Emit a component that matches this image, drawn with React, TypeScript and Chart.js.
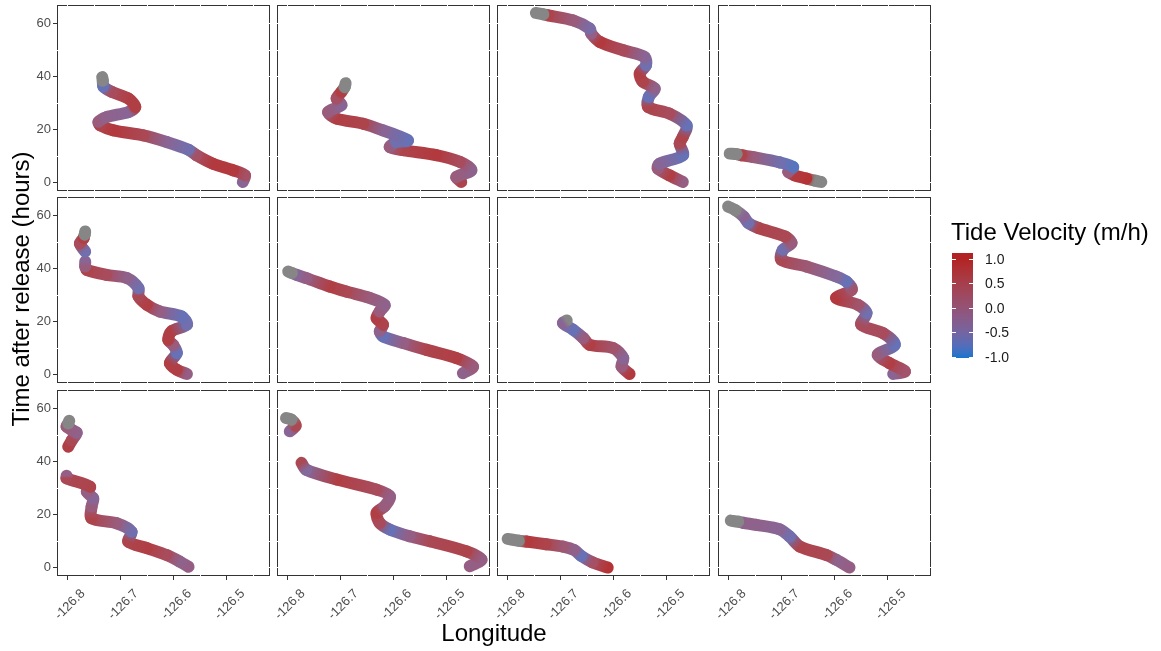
import React, { useEffect, useRef } from 'react';
import { Chart, registerables } from 'chart.js';
Chart.register(...registerables);

// ---------- axis / legend values ----------
const X_TICKS = [-126.8, -126.7, -126.6, -126.5];
const Y_TICKS = [0, 20, 40, 60];
const X_GRID = [-126.8, -126.75, -126.7, -126.65, -126.6, -126.55, -126.5, -126.45];
const Y_GRID = [0, 10, 20, 30, 40, 50, 60];
const LEGEND_TICKS = [1.0, 0.5, 0.0, -0.5, -1.0];
const LON_MIN = -126.819;
const LON_MAX = -126.419;
const TIME_MIN = -3.3;
const TIME_MAX = 66.9;

// ---------- tracks (lon, time after release, tide velocity; null velocity = NA) ----------
const P1_LON = [-126.470, -126.466, -126.488, -126.526, -126.557, -126.572, -126.613, -126.657, -126.713, -126.738, -126.741, -126.726, -126.685, -126.672, -126.685, -126.716, -126.732, -126.733, -126.734];
const P1_TIME = [0.1, 2.6, 4.5, 7.0, 10.2, 12.3, 15.2, 17.7, 19.6, 21.5, 22.8, 24.6, 26.5, 28.4, 31.6, 34.1, 36.2, 38.3, 39.7];
const P1_VEL = [-0.3, 0.3, 0.8, 0.8, 0.3, -0.6, -0.3, 0.5, 0.8, 0.6, 0.0, -0.2, -0.3, 0.7, 0.7, 0.4, -0.7, null, null];

const P2_LON = [-126.473, -126.482, -126.454, -126.476, -126.520, -126.582, -126.607, -126.595, -126.573, -126.620, -126.657, -126.707, -126.723, -126.698, -126.707, -126.698, -126.692, -126.690];
const P2_TIME = [0.1, 2.0, 4.5, 7.7, 10.2, 12.1, 13.3, 15.2, 15.8, 19.6, 22.1, 24.0, 26.5, 29.1, 31.6, 34.1, 35.9, 37.4];
const P2_VEL = [0.6, 0.0, -0.2, 0.4, 0.8, 0.6, 0.0, -0.6, -0.7, -0.3, 0.6, 0.7, 0.0, -0.3, 0.3, 0.7, null, null];

const P3_LON = [-126.470, -126.495, -126.517, -126.514, -126.470, -126.476, -126.470, -126.463, -126.495, -126.535, -126.534, -126.523, -126.545, -126.551, -126.539, -126.542, -126.582, -126.626, -126.642, -126.645, -126.676, -126.723, -126.732, -126.746];
const P3_TIME = [0.1, 2.6, 5.2, 7.0, 10.2, 14.6, 17.1, 21.5, 25.9, 28.4, 32.2, 35.4, 37.9, 41.0, 44.2, 47.3, 49.8, 53.0, 56.1, 58.0, 61.1, 63.0, 63.4, 63.9];
const P3_VEL = [-0.1, 0.7, 0.0, -0.3, -0.7, 0.5, 0.6, -0.7, 0.4, 0.6, -0.7, -0.2, 0.6, 0.7, -0.6, -0.3, 0.4, 0.8, -0.1, -0.5, 0.0, 0.6, null, null];

const P4_LON = [-126.625, -126.637, -126.653, -126.675, -126.687, -126.678, -126.703, -126.753, -126.775, -126.784, -126.797];
const P4_TIME = [0.1, 0.6, 1.4, 2.6, 3.9, 5.8, 7.5, 9.5, 10.2, 10.6, 10.8];
const P4_VEL = [null, null, 0.9, 0.8, 0.0, -0.8, -0.6, 0.0, 0.6, null, null];

const P5_LON = [-126.575, -126.594, -126.607, -126.594, -126.601, -126.610, -126.604, -126.575, -126.585, -126.626, -126.650, -126.666, -126.666, -126.688, -126.726, -126.763, -126.766, -126.766, null, -126.766, -126.776, -126.769, -126.767, -126.766];
const P5_TIME = [0.1, 1.7, 4.2, 8.0, 11.1, 13.0, 16.2, 18.7, 21.8, 23.7, 26.2, 29.4, 32.5, 36.3, 37.5, 39.4, 40.7, 42.6, null, 46.3, 49.3, 51.4, 52.7, 53.9];
const P5_VEL = [-0.1, 0.7, 0.7, -0.7, 0.0, 0.7, 0.7, -0.6, -0.7, -0.1, 0.7, 0.5, -0.6, -0.2, 0.4, 0.6, 0.0, -0.3, null, -0.6, 0.4, 0.7, null, null];

const P6_LON = [-126.470, -126.451, -126.482, -126.538, -126.582, -126.620, -126.626, -126.620, -126.632, -126.626, -126.617, -126.645, -126.689, -126.720, -126.764, -126.782, -126.791, -126.798];
const P6_TIME = [0.4, 2.9, 6.1, 9.2, 11.8, 14.3, 16.2, 18.7, 21.2, 23.7, 26.2, 28.8, 31.2, 33.1, 36.3, 37.5, 38.2, 38.8];
const P6_VEL = [-0.2, 0.0, 0.7, 0.6, -0.1, -0.7, -0.2, 0.6, 0.7, 0.0, -0.2, 0.0, 0.5, 0.7, -0.1, -0.3, null, null];

const P7_LON = [-126.570, -126.585, -126.582, -126.601, -126.645, -126.657, -126.676, -126.695, -126.688];
const P7_TIME = [0.1, 2.9, 6.1, 9.9, 11.1, 13.7, 16.8, 19.3, 20.3];
const P7_VEL = [0.8, 0.0, -0.3, 0.2, 0.7, 0.0, -0.7, -0.3, null];

const P8_LON = [-126.490, -126.468, -126.497, -126.519, -126.487, -126.509, -126.550, -126.540, -126.556, -126.597, -126.568, -126.578, -126.597, -126.653, -126.700, -126.697, -126.681, -126.693, -126.743, -126.762, -126.771, -126.786, -126.800];
const P8_TIME = [0.1, 1.1, 4.2, 7.4, 11.1, 15.5, 18.7, 23.1, 26.2, 28.8, 31.9, 35.0, 36.9, 40.7, 43.2, 47.0, 49.5, 52.0, 55.2, 57.1, 59.5, 61.9, 63.3];
const P8_VEL = [-0.3, 0.2, 0.7, 0.0, -0.7, 0.4, 0.4, -0.6, 0.2, 0.8, 0.2, -0.7, -0.4, 0.1, 0.5, -0.6, 0.0, 0.5, 0.6, -0.6, -0.3, null, null];

const P9_LON = [-126.572, -126.588, -126.613, -126.650, -126.685, -126.679, -126.707, -126.754, -126.754, -126.751, -126.763, -126.757, -126.801, -126.801, null, -126.798, -126.791, -126.782, -126.791, -126.801, -126.798, -126.796];
const P9_TIME = [0.2, 2.1, 4.6, 7.2, 9.7, 13.4, 16.6, 18.5, 22.9, 26.0, 28.5, 30.4, 33.6, 34.5, null, 45.5, 48.0, 50.8, 51.8, 53.1, 54.3, 55.3];
const P9_VEL = [-0.1, -0.2, 0.4, 0.7, 0.6, -0.6, 0.0, 0.6, 0.0, -0.3, -0.1, 0.6, 0.5, -0.1, null, 0.7, 0.5, -0.2, -0.1, 0.0, null, null];

const P10_LON = [-126.457, -126.435, -126.463, -126.532, -126.570, -126.607, -126.626, -126.632, -126.617, -126.607, -126.632, -126.707, -126.764, -126.773, null, -126.795, -126.784, -126.792, -126.802];
const P10_TIME = [0.4, 2.9, 6.0, 9.8, 11.7, 14.2, 16.7, 20.5, 23.0, 26.8, 29.3, 33.1, 36.8, 39.4, null, 51.3, 53.4, 55.7, 56.3];
const P10_VEL = [-0.1, -0.1, 0.6, 0.5, -0.1, -0.7, 0.4, 0.7, 0.0, -0.1, 0.4, 0.7, -0.4, 0.5, null, -0.3, 0.5, null, null];

const P11_LON = [-126.611, -126.640, -126.661, -126.674, -126.695, -126.727, -126.764, -126.778, -126.799];
const P11_TIME = [-0.1, 1.9, 4.3, 6.5, 7.8, 8.7, 9.7, 10.0, 10.7];
const P11_VEL = [0.9, 0.3, -0.7, -0.2, 0.1, 0.6, 0.8, null, null];

const P12_LON = [-126.572, -126.597, -126.615, -126.665, -126.684, -126.703, -126.747, -126.772, -126.781, -126.795];
const P12_TIME = [-0.1, 2.8, 4.6, 7.8, 11.5, 14.3, 16.0, 16.8, 17.2, 17.6];
const P12_VEL = [-0.1, -0.2, 0.5, 0.6, -0.6, -0.3, -0.2, -0.2, null, null];

const PANELS = [
  { lon: P1_LON, time: P1_TIME, vel: P1_VEL },
  { lon: P2_LON, time: P2_TIME, vel: P2_VEL },
  { lon: P3_LON, time: P3_TIME, vel: P3_VEL },
  { lon: P4_LON, time: P4_TIME, vel: P4_VEL },
  { lon: P5_LON, time: P5_TIME, vel: P5_VEL },
  { lon: P6_LON, time: P6_TIME, vel: P6_VEL },
  { lon: P7_LON, time: P7_TIME, vel: P7_VEL },
  { lon: P8_LON, time: P8_TIME, vel: P8_VEL },
  { lon: P9_LON, time: P9_TIME, vel: P9_VEL },
  { lon: P10_LON, time: P10_TIME, vel: P10_VEL },
  { lon: P11_LON, time: P11_TIME, vel: P11_VEL },
  { lon: P12_LON, time: P12_TIME, vel: P12_VEL },
];

// ---------- layout ----------
const W = 1161;
const H = 651;
const COL_LEFT = [57, 277, 497, 718];
const ROW_TOP = [5, 197, 390];
const PANEL_W = 213;
const PANEL_H = 186;
const Y_AXIS_W = 40;
const X_AXIS_H = 50;
const FONT = "'Liberation Sans', Arial, Helvetica, sans-serif";

// ---------- colour scale (Lab interpolation, like ggplot) ----------
const LOW_RGB = [24, 116, 205];
const HIGH_RGB = [178, 34, 34];
const NA_RGB = [128, 128, 128];

function toLin(c: number) { c /= 255; return c <= 0.04045 ? c / 12.92 : Math.pow((c + 0.055) / 1.055, 2.4); }
function fromLin(c: number) {
  const v = c <= 0.0031308 ? 12.92 * c : 1.055 * Math.pow(c, 1 / 2.4) - 0.055;
  return Math.round(Math.max(0, Math.min(1, v)) * 255);
}
function rgbToLab(rgb: number[]) {
  const R = toLin(rgb[0]), G = toLin(rgb[1]), B = toLin(rgb[2]);
  const X = (0.4124 * R + 0.3576 * G + 0.1805 * B) / 0.95047;
  const Y = 0.2126 * R + 0.7152 * G + 0.0722 * B;
  const Z = (0.0193 * R + 0.1192 * G + 0.9505 * B) / 1.08883;
  const f = (t: number) => (t > 0.008856 ? Math.cbrt(t) : 7.787 * t + 16 / 116);
  const fx = f(X), fy = f(Y), fz = f(Z);
  return [116 * fy - 16, 500 * (fx - fy), 200 * (fy - fz)];
}
function labToRgb(lab: number[]) {
  const fy = (lab[0] + 16) / 116, fx = fy + lab[1] / 500, fz = fy - lab[2] / 200;
  const inv = (t: number) => { const t3 = t * t * t; return t3 > 0.008856 ? t3 : (t - 16 / 116) / 7.787; };
  const X = inv(fx) * 0.95047, Y = inv(fy), Z = inv(fz) * 1.08883;
  return [
    fromLin(3.2406 * X - 1.5372 * Y - 0.4986 * Z),
    fromLin(-0.9689 * X + 1.8758 * Y + 0.0415 * Z),
    fromLin(0.0557 * X - 0.2040 * Y + 1.0570 * Z),
  ];
}
const LOW_LAB = rgbToLab(LOW_RGB);
const HIGH_LAB = rgbToLab(HIGH_RGB);

function scaleRgb(v: number | null): number[] {
  if (v === null || v === undefined) return NA_RGB;
  const t = Math.max(0, Math.min(1, (v + 1) / 2));
  return labToRgb([0, 1, 2].map((k) => LOW_LAB[k] + (HIGH_LAB[k] - LOW_LAB[k]) * t));
}
function trackColor(v: number | null) {
  const c = scaleRgb(v);
  const a = 0.95;
  const m = c.map((x) => Math.round(x * a + 255 * (1 - a)));
  return `rgb(${m[0]},${m[1]},${m[2]})`;
}
function legendColor(v: number) {
  const c = scaleRgb(v);
  return `rgb(${c[0]},${c[1]},${c[2]})`;
}

// ---------- plugin: panel border ----------
function makeBorderPlugin(hasXAxis: boolean, hasYAxis: boolean) {
  return {
    id: 'panelBorder',
    afterDraw(chart: any) {
      const { ctx, chartArea: a } = chart;
      const xs = chart.scales.x, ys = chart.scales.y;
      ctx.save();
      ctx.strokeStyle = '#333333';
      ctx.lineWidth = 1;
      ctx.strokeRect(a.left + 0.5, a.top + 0.5, a.right - a.left - 1, a.bottom - a.top - 1);
      ctx.strokeStyle = '#ffffff';
      ctx.beginPath();
      X_GRID.forEach((v) => {
        const px = Math.round(xs.getPixelForValue(v)) + 0.5;
        ctx.moveTo(px, a.top - 1.5); ctx.lineTo(px, a.top + 2);
        if (!(hasXAxis && X_TICKS.includes(v))) { ctx.moveTo(px, a.bottom - 2); ctx.lineTo(px, a.bottom + 1.5); }
      });
      Y_GRID.forEach((v) => {
        const py = Math.round(ys.getPixelForValue(v)) + 0.5;
        ctx.moveTo(a.right - 2, py); ctx.lineTo(a.right + 1.5, py);
        if (!(hasYAxis && Y_TICKS.includes(v))) { ctx.moveTo(a.left - 1.5, py); ctx.lineTo(a.left + 2, py); }
      });
      ctx.stroke();
      ctx.restore();
    },
  };
}

function buildConfig(i: number) {
  const p = PANELS[i];
  const r = Math.floor(i / 4), c = i % 4;
  const showX = r === 2, showY = c === 0;
  const left = COL_LEFT[c], top = ROW_TOP[r];
  const colors = p.vel.map((v) => trackColor(v as number | null));
  const data = p.lon.map((x, k) => ({ x: x as number, y: p.time[k] as number }));
  const tickFont = { family: FONT, size: 13 };
  return {
    type: 'scatter' as const,
    data: {
      datasets: [{
        data,
        showLine: true,
        borderColor: '#888888',
        borderWidth: 12,
        borderCapStyle: 'round',
        borderJoinStyle: 'round',
        pointRadius: 0,
        pointHoverRadius: 0,
        tension: 0.3,
        spanGaps: false,
        segment: {
          borderColor: (sc: any) => {
            const c0 = colors[sc.p0DataIndex], c1 = colors[sc.p1DataIndex];
            const { p0, p1 } = sc;
            if (c0 === c1 || (Math.abs(p0.x - p1.x) < 0.01 && Math.abs(p0.y - p1.y) < 0.01)) return c0;
            const g = sc.chart.ctx.createLinearGradient(p0.x, p0.y, p1.x, p1.y);
            g.addColorStop(0, c0);
            g.addColorStop(1, c1);
            return g;
          },
        },
      }],
    },
    options: {
      responsive: false,
      animation: false,
      devicePixelRatio: 1,
      events: [],
      layout: {
        padding: {
          left: showY ? left - Y_AXIS_W : left,
          top,
          right: W - (left + PANEL_W),
          bottom: H - (top + PANEL_H) - (showX ? X_AXIS_H : 0),
        },
      },
      plugins: { legend: { display: false }, tooltip: { enabled: false } },
      scales: {
        x: {
          type: 'linear',
          position: 'bottom',
          display: showX,
          min: LON_MIN,
          max: LON_MAX,
          afterFit: (s: any) => {
            s.height = showX ? X_AXIS_H : 0;
            s.paddingLeft = 0; s.paddingRight = 0;
          },
          afterBuildTicks: (s: any) => { s.ticks = X_TICKS.map((v) => ({ value: v })); },
          grid: { drawOnChartArea: false, drawTicks: true, tickLength: 4, tickColor: '#333333', tickWidth: 1, color: '#ffffff' },
          border: { display: false },
          ticks: {
            autoSkip: false, minRotation: 45, maxRotation: 45, padding: 6, labelOffset: 16,
            color: '#4d4d4d', font: tickFont,
            callback: (v: any) => Number(v).toFixed(1),
          },
        },
        y: {
          type: 'linear',
          position: 'left',
          display: showY,
          min: TIME_MIN,
          max: TIME_MAX,
          afterFit: (s: any) => {
            s.width = showY ? Y_AXIS_W : 0;
            s.paddingTop = 0; s.paddingBottom = 0;
          },
          afterBuildTicks: (s: any) => { s.ticks = Y_TICKS.map((v) => ({ value: v })); },
          grid: { drawOnChartArea: false, drawTicks: true, tickLength: 4, tickColor: '#333333', tickWidth: 1, color: '#ffffff' },
          border: { display: false },
          ticks: { padding: 2, color: '#4d4d4d', font: tickFont, callback: (v: any) => String(v) },
        },
      },
    },
    plugins: [makeBorderPlugin(showX, showY)],
  };
}

// legend geometry
const BAR_LEFT = 952;
const BAR_W = 21;
const BAR_TOP = 253;
const BAR_BOTTOM = 358;
const LEG_ZERO_Y = 307.5;
const LEG_PX_PER_UNIT = 49;

export default function App() {
  const refs = useRef<(HTMLCanvasElement | null)[]>([]);
  useEffect(() => {
    const charts = PANELS.map((_, i) => new Chart(refs.current[i] as HTMLCanvasElement, buildConfig(i) as any));
    return () => charts.forEach((ch) => ch.destroy());
  }, []);

  const vTop = (LEG_ZERO_Y - BAR_TOP) / LEG_PX_PER_UNIT;
  const vBot = (LEG_ZERO_Y - BAR_BOTTOM) / LEG_PX_PER_UNIT;
  const stops: string[] = [];
  for (let k = 0; k <= 20; k++) {
    const v = vTop + (vBot - vTop) * (k / 20);
    stops.push(`${legendColor(v)} ${(k * 5).toFixed(0)}%`);
  }

  return (
    <div style={{ position: 'absolute', left: 0, top: 0, width: W, height: H, background: '#ffffff', overflow: 'hidden', fontFamily: FONT }}>
      {PANELS.map((_, i) => (
        <canvas
          key={i}
          ref={(el) => { refs.current[i] = el; }}
          width={W}
          height={H}
          style={{ position: 'absolute', left: 0, top: 0, width: W, height: H }}
        />
      ))}
      <div style={{ position: 'absolute', left: 294, width: 400, top: 621, textAlign: 'center', fontSize: 24, lineHeight: '24px', color: '#000' }}>
        Longitude
      </div>
      <div style={{ position: 'absolute', left: 21 - 200, top: 289 - 12, width: 400, height: 24, textAlign: 'center', fontSize: 24, lineHeight: '24px', color: '#000', transform: 'rotate(-90deg)', transformOrigin: '50% 50%', whiteSpace: 'nowrap' }}>
        Time after release (hours)
      </div>
      <div style={{ position: 'absolute', left: 951, top: 220, fontSize: 24, lineHeight: '24px', color: '#000', whiteSpace: 'nowrap' }}>
        Tide Velocity (m/h)
      </div>
      <div style={{ position: 'absolute', left: BAR_LEFT, top: BAR_TOP, width: BAR_W, height: BAR_BOTTOM - BAR_TOP, background: `linear-gradient(to bottom, ${stops.join(', ')})` }} />
      {LEGEND_TICKS.map((v) => {
        const y = LEG_ZERO_Y - v * LEG_PX_PER_UNIT;
        return (
          <React.Fragment key={v}>
            <div style={{ position: 'absolute', left: BAR_LEFT, top: Math.round(y) - 0.5, width: 4, height: 1, background: '#ffffff' }} />
            <div style={{ position: 'absolute', left: BAR_LEFT + BAR_W - 4, top: Math.round(y) - 0.5, width: 4, height: 1, background: '#ffffff' }} />
            <div style={{ position: 'absolute', left: 985, top: y - 7, fontSize: 14, lineHeight: '14px', color: '#1a1a1a', whiteSpace: 'nowrap' }}>
              {v.toFixed(1)}
            </div>
          </React.Fragment>
        );
      })}
    </div>
  );
}
